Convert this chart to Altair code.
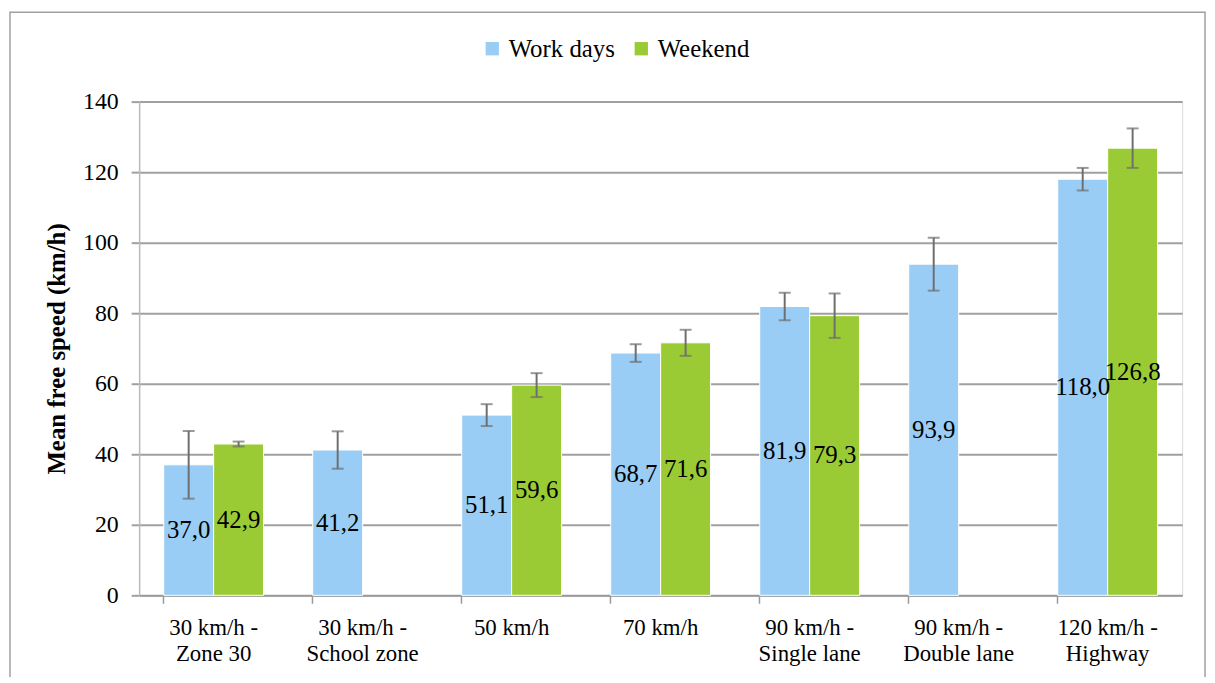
import altair as alt
import pandas as pd

categories = ["30 km/h - Zone 30", "30 km/h - School zone", "50 km/h", "70 km/h",
              "90 km/h - Single lane", "90 km/h - Double lane", "120 km/h - Highway"]
series = ["Work days", "Weekend"]
work_vals = [37.0, 41.2, 51.1, 68.7, 81.9, 93.9, 118.0]
work_err = [9.6, 5.3, 3.1, 2.5, 3.9, 7.5, 3.2]
weekend_vals = [42.9, None, 59.6, 71.6, 79.3, None, 126.8]
weekend_err = [0.7, None, 3.4, 3.7, 6.3, None, 5.6]
colors = ["#99CDF5", "#9BCB34"]

rows = []
for c, v, e in zip(categories, work_vals, work_err):
    rows.append({"cat": c, "series": "Work days", "v": v, "e": e})
for c, v, e in zip(categories, weekend_vals, weekend_err):
    if v is not None:
        rows.append({"cat": c, "series": "Weekend", "v": v, "e": e})
df = pd.DataFrame(rows)
df["lo"] = df["v"] - df["e"]
df["hi"] = df["v"] + df["e"]
df["mid"] = df["v"] / 2
df["label"] = df["v"].map(lambda x: f"{x:.1f}".replace(".", ","))

FONT = "Liberation Serif"

x = alt.X("cat:N", sort=categories, title=None,
          scale=alt.Scale(paddingInner=0.33, paddingOuter=0.165),
          axis=alt.Axis(labelAngle=0, labelFontSize=23, labelFont=FONT, labelColor="#000",
                        labelExpr="split(replace(datum.label, ' - ', ' -|'), '|')",
                        labelLineHeight=27, labelPadding=13,
                        bandPosition=0, tickSize=8, tickColor="#999", tickWidth=1.5,
                        domainColor="#999", domainWidth=1.5, grid=False))
xo = alt.XOffset("series:N", sort=series, scale=alt.Scale(domain=series))
color = alt.Color("series:N", sort=series,
                  scale=alt.Scale(domain=series, range=colors),
                  legend=alt.Legend(title=None, orient="none", direction="horizontal",
                                    legendX=343, legendY=-66,
                                    symbolType="square", symbolSize=180, symbolStrokeWidth=0,
                                    labelFont=FONT, labelFontSize=25, labelColor="#000",
                                    columnPadding=14, labelOffset=4))
y = alt.Y("v:Q", title="Mean free speed (km/h)",
          scale=alt.Scale(domain=[0, 140], nice=False),
          axis=alt.Axis(values=list(range(0, 141, 20)), labelFontSize=24, labelFont=FONT,
                        labelColor="#000", titleFont=FONT, titleFontSize=25,
                        titleFontWeight="bold", titleColor="#000", titlePadding=13,
                        gridColor="#A0A0A0", gridWidth=2, tickColor="#A0A0A0",
                        tickWidth=2, tickSize=8, domainColor="#BBB", domainWidth=1.5,
                        labelPadding=13))

base = alt.Chart(df)
bars = base.mark_bar(stroke="white", strokeWidth=1).encode(x=x, xOffset=xo, y=y, color=color)
rules = base.mark_rule(color="#6E6E6E", strokeWidth=2).encode(
    x=x, xOffset=xo, y=alt.Y("lo:Q"), y2="hi:Q")
cap_lo = base.mark_tick(color="#6E6E6E", thickness=2, size=12).encode(
    x=x, xOffset=xo, y=alt.Y("lo:Q"))
cap_hi = base.mark_tick(color="#6E6E6E", thickness=2, size=12).encode(
    x=x, xOffset=xo, y=alt.Y("hi:Q"))
texts = base.mark_text(font=FONT, fontSize=25, color="#000").encode(
    x=x, xOffset=xo, y=alt.Y("mid:Q"), text="label:N")
border = alt.Chart(pd.DataFrame({"a": [0]})).mark_rect(
    fill=None, stroke="#A0A0A0", strokeWidth=1.5).encode(
    x=alt.value(-130), x2=alt.value(1073), y=alt.value(-90), y2=alt.value(620))

chart = alt.layer(border, bars, rules, cap_lo, cap_hi, texts).properties(
    width=1050, height=497,
    padding={"left": 132, "top": 92, "right": 25, "bottom": 80},
    autosize=alt.AutoSizeParams(type="none"),
).configure_view(stroke=None).configure(background="white")

chart.save("out.html", embed_options={"renderer": "svg", "actions": False})
